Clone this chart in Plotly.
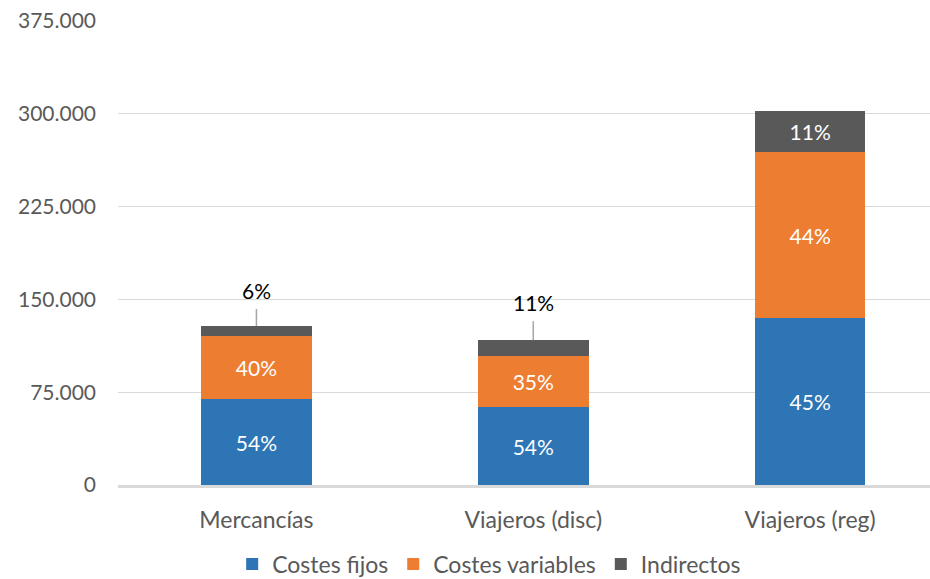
import plotly.graph_objects as go

# Cost breakdown per service type
categories = ["Mercancías", "Viajeros (disc)", "Viajeros (reg)"]
costes_fijos = [69500, 63000, 135000]
costes_variables = [51000, 41000, 134000]
indirectos = [8000, 13000, 33500]

series = [
    ("Costes fijos", costes_fijos, "#2E75B6"),
    ("Costes variables", costes_variables, "#ED7D31"),
    ("Indirectos", indirectos, "#595959"),
]

totals = [sum(v) for v in zip(costes_fijos, costes_variables, indirectos)]

FONT = "Lato, 'Open Sans', sans-serif"
GREY_TXT = "#595959"

fig = go.Figure()
annotations = []
for name, vals, color in series:
    texts = []
    for i, (v, t) in enumerate(zip(vals, totals)):
        pct = f"{round(100 * v / t)}%"
        # thin segments get their label outside with a leader line
        if name == "Indirectos" and v < 20000:
            texts.append("")
            annotations.append(dict(
                x=categories[i], y=t, xref="x", yref="y",
                text=pct, showarrow=True, arrowhead=0, arrowwidth=1.5,
                arrowcolor="#A6A6A6", ax=0, ay=-36 if i == 0 else -38,
                startstandoff=5,
                font=dict(family=FONT, size=21, color="#000000"),
            ))
        else:
            texts.append(pct)
    fig.add_trace(go.Bar(
        name=name, x=categories, y=vals,
        marker=dict(color=color, line=dict(width=0)),
        text=texts, textposition="inside", insidetextanchor="middle",
        textangle=0, textfont=dict(family=FONT, size=21, color="#FFFFFF"),
        width=0.4,
    ))

fig.update_layout(
    barmode="stack",
    width=930, height=579,
    margin=dict(l=118, r=0, t=21, b=94, autoexpand=False),
    paper_bgcolor="white", plot_bgcolor="white",
    separators=",.",
    font=dict(family=FONT, size=21, color=GREY_TXT),
    annotations=annotations,
    legend=dict(
        orientation="h", xref="container", yref="container",
        x=0.526, xanchor="center", y=0.026, yanchor="middle",
        font=dict(family=FONT, size=23, color=GREY_TXT),
        itemwidth=30, traceorder="normal",
    ),
    showlegend=True,
)

fig.update_yaxes(
    range=[0, 375000], dtick=75000, tickformat=",d",
    showgrid=True, gridcolor="#D9D9D9", gridwidth=1,
    zeroline=False, showline=False,
    ticks="", ticklabelstandoff=21,
    tickfont=dict(family=FONT, size=21, color=GREY_TXT),
)
fig.update_xaxes(
    range=[-0.5, 2.433], showgrid=False,
    showline=True, linecolor="#D9D9D9", linewidth=2.5,
    ticks="", ticklabelstandoff=13,
    tickfont=dict(family=FONT, size=23, color=GREY_TXT),
)

fig.write_html("out.html")
